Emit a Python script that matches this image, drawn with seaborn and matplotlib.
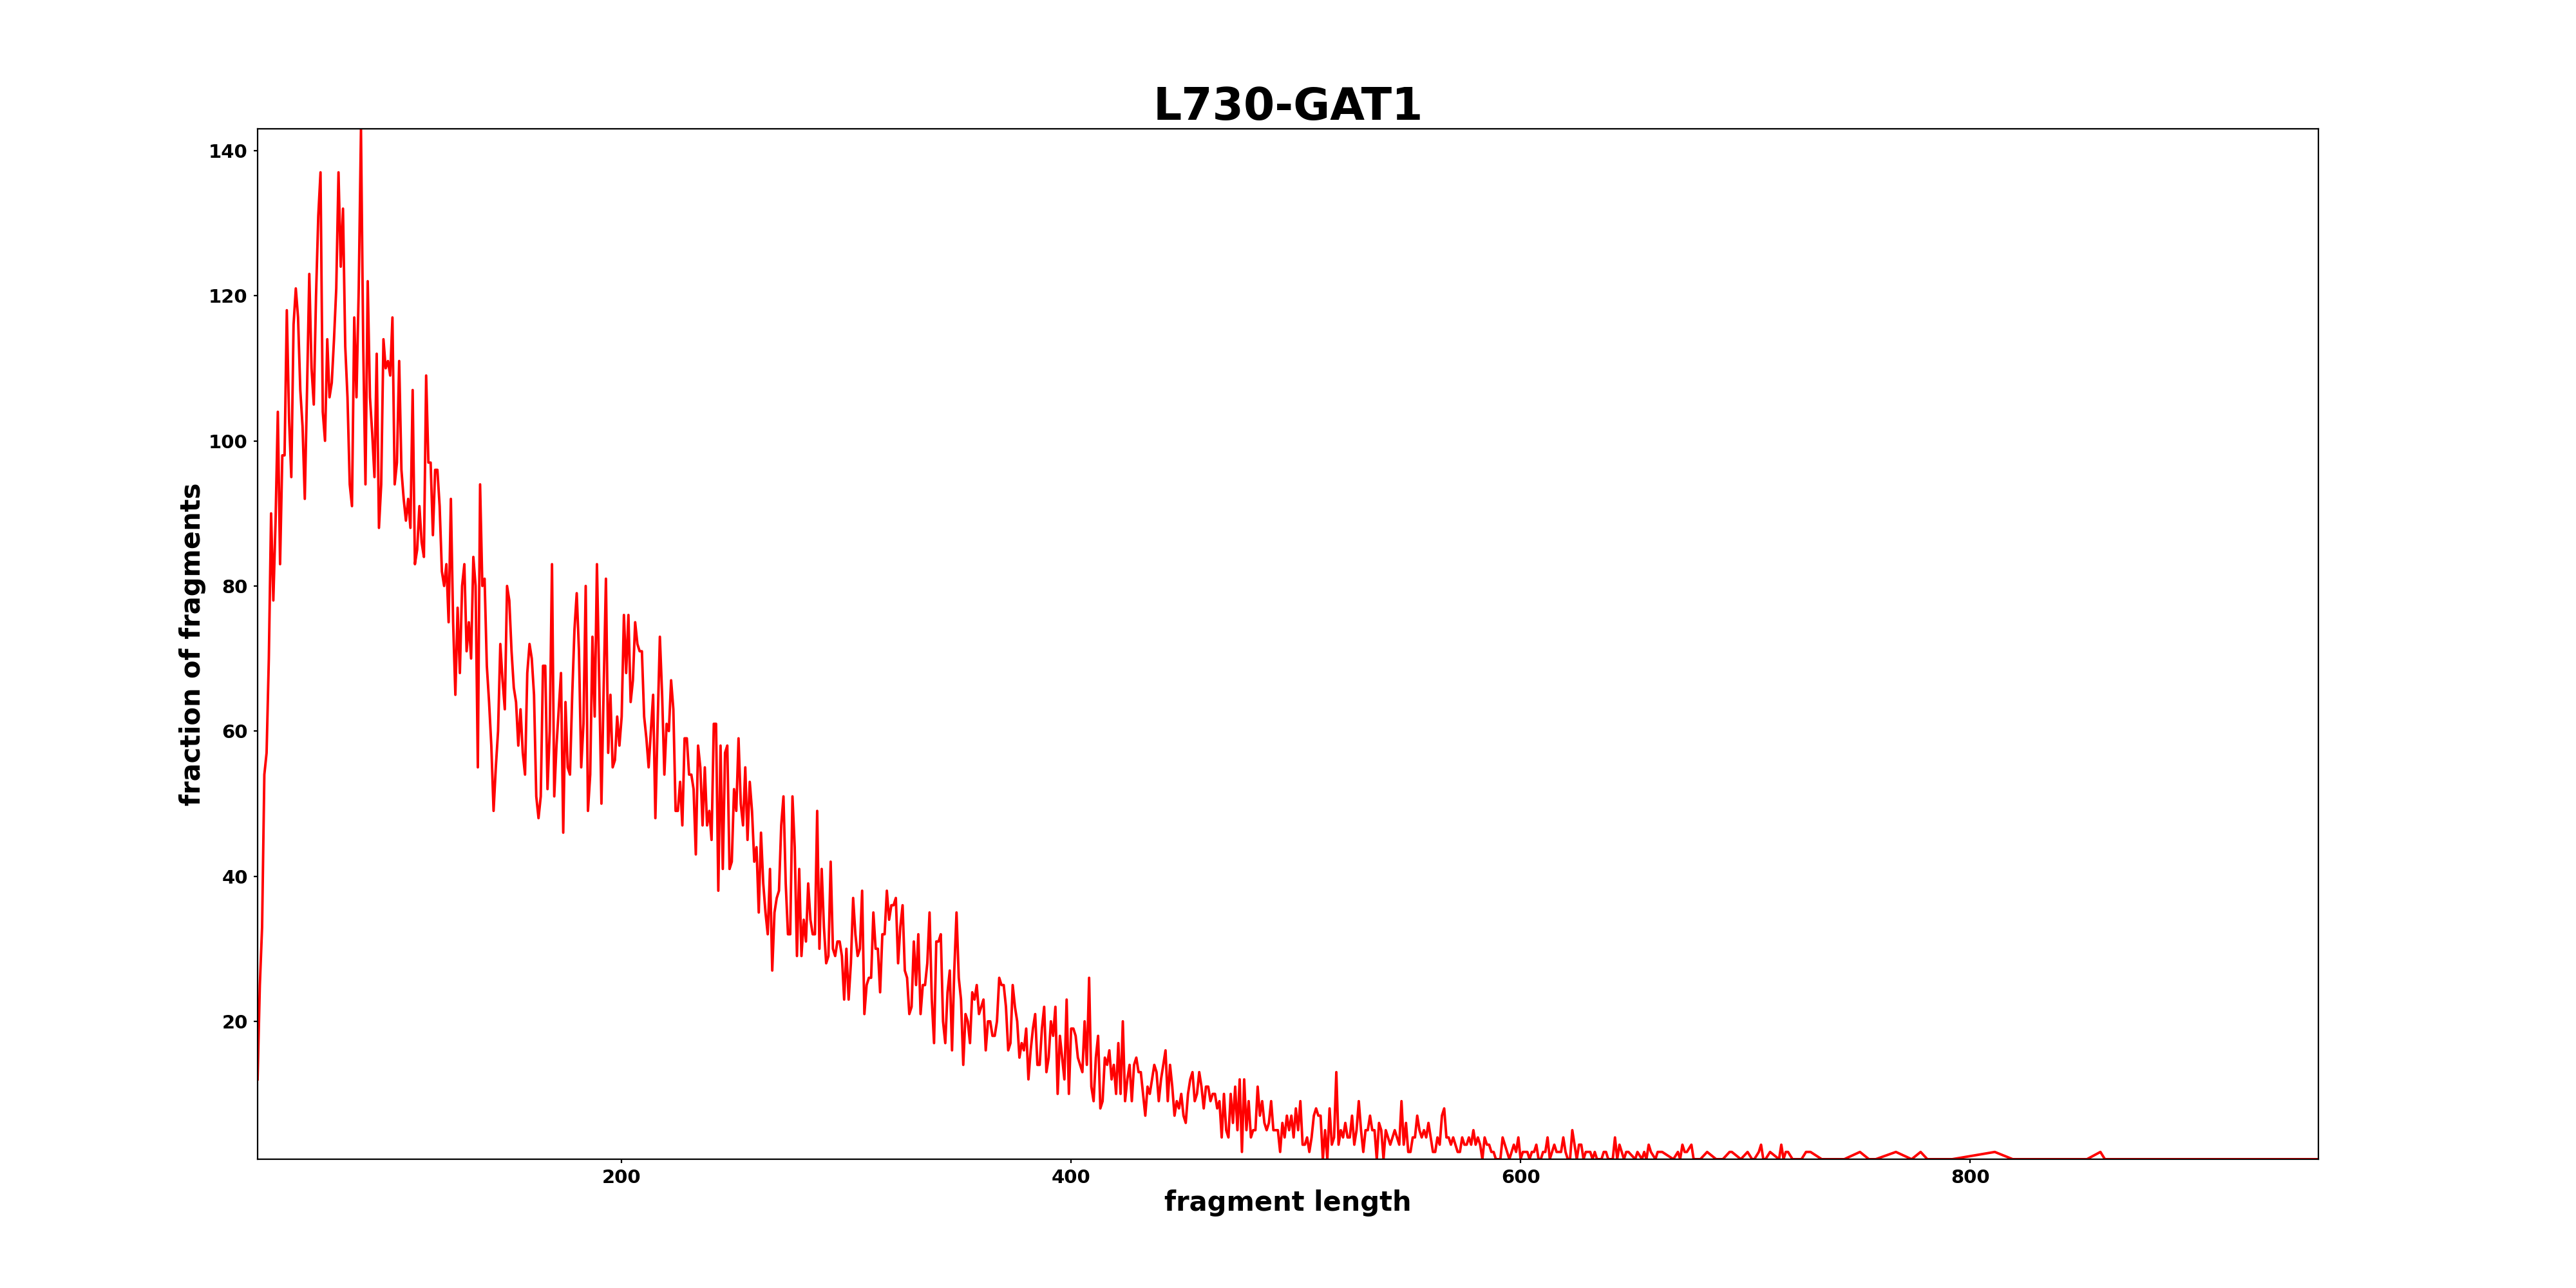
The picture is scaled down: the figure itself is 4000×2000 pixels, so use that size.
import numpy as np
import pandas as pd
import matplotlib
matplotlib.use("Agg")
import matplotlib.pyplot as plt
import seaborn as sns

# fragment length histogram, counts
# dense part: one count per length starting at 38
start_length = 38
dense_counts = [
    12, 25, 33, 54, 57, 70, 90, 78, 89, 104,
    83, 98, 98, 118, 103, 95, 116, 121, 117, 107,
    102, 92, 107, 123, 110, 105, 120, 131, 137, 104,
    100, 114, 106, 108, 114, 121, 137, 124, 132, 113,
    106, 94, 91, 117, 106, 121, 143, 113, 94, 122,
    106, 101, 95, 112, 88, 94, 114, 110, 111, 109,
    117, 94, 97, 111, 96, 92, 89, 92, 88, 107,
    83, 85, 91, 86, 84, 109, 97, 97, 87, 96,
    96, 91, 82, 80, 83, 75, 92, 75, 65, 77,
    68, 80, 83, 71, 75, 70, 84, 80, 55, 94,
    80, 81, 69, 64, 58, 49, 55, 60, 72, 67,
    63, 80, 78, 71, 66, 64, 58, 63, 57, 54,
    68, 72, 70, 65, 51, 48, 51, 69, 69, 52,
    60, 83, 51, 58, 63, 68, 46, 64, 55, 54,
    65, 74, 79, 71, 55, 61, 80, 49, 54, 73,
    62, 83, 67, 50, 66, 81, 57, 65, 55, 56,
    62, 58, 62, 76, 68, 76, 64, 67, 75, 72,
    71, 71, 62, 59, 55, 60, 65, 48, 61, 73,
    65, 54, 61, 60, 67, 63, 49, 49, 53, 47,
    59, 59, 54, 54, 52, 43, 58, 55, 47, 55,
    47, 49, 45, 61, 61, 38, 58, 41, 57, 58,
    41, 42, 52, 49, 59, 50, 47, 55, 45, 53,
    49, 42, 44, 35, 46, 39, 35, 32, 41, 27,
    35, 37, 38, 47, 51, 39, 32, 32, 51, 44,
    29, 41, 29, 34, 31, 39, 34, 32, 32, 49,
    30, 41, 33, 28, 29, 42, 30, 29, 31, 31,
    29, 23, 30, 23, 28, 37, 32, 29, 30, 38,
    21, 25, 26, 26, 35, 30, 30, 24, 32, 32,
    38, 34, 36, 36, 37, 28, 33, 36, 27, 26,
    21, 22, 31, 25, 32, 21, 25, 25, 28, 35,
    23, 17, 31, 31, 32, 20, 17, 24, 27, 16,
    27, 35, 26, 23, 14, 21, 20, 17, 24, 23,
    25, 21, 22, 23, 16, 20, 20, 18, 18, 20,
    26, 25, 25, 22, 16, 17, 25, 22, 20, 15,
    17, 16, 19, 12, 16, 19, 21, 14, 14, 19,
    22, 13, 15, 20, 18, 22, 10, 18, 15, 12,
    23, 10, 19, 19, 18, 15, 14, 13, 20, 14,
    26, 11, 9, 15, 18, 8, 9, 15, 14, 16,
    12, 14, 10, 17, 10, 20, 9, 12, 14, 9,
    14, 15, 13, 13, 10, 7, 11, 10, 12, 14,
    13, 9, 12, 14, 16, 9, 14, 11, 7, 9,
    8, 10, 7, 6, 10, 12, 13, 9, 10, 13,
    11, 8, 11, 11, 9, 10, 10, 8, 9, 4,
    10, 5, 4, 10, 6, 11, 5, 12, 2, 12,
    5, 9, 4, 5, 5, 11, 7, 9, 6, 5,
    6, 9, 5, 5, 5, 2, 6, 4, 7, 5,
    7, 4, 8, 5, 9, 3, 3, 4, 2, 4,
    7, 8, 7, 7, 1, 5, 1, 8, 3, 4,
    13, 3, 5, 4, 6, 4, 4, 7, 3, 5,
    9, 5, 2, 5, 5, 7, 5, 5, 1, 6,
    5, 1, 5, 4, 3, 4, 5, 4, 3, 9,
    3, 6, 2, 2, 4, 4, 7, 5, 4, 5,
    4, 6, 4, 2, 2, 4, 3, 7, 8, 4,
    4, 3, 4, 3, 2, 2, 4, 3, 3, 4,
    3, 5, 3, 4, 3, 1, 4, 3, 3, 2,
    2, 1, 1, 1, 4, 3, 2, 1, 2, 3,
    2, 4, 1, 2, 2, 2, 1, 2, 2, 3,
    1, 1, 2, 2, 4, 1, 2, 3, 2, 2,
    2, 4, 2, 1, 1, 5, 3, 1, 3, 3,
    1, 2, 2, 2, 1, 2, 1, 1, 1, 2,
    2, 1, 1, 1, 4, 1, 3, 2, 1, 2,
    2,
]

# sparse tail: only lengths that were seen
tail_lengths = [651, 652, 654, 655, 656, 657, 658, 660, 661, 663, 668, 670, 671,
                672, 673, 674, 676, 677, 680, 683, 687, 690, 693, 694, 698, 701,
                703, 704, 706, 707, 708, 709, 711, 715, 716, 717, 718, 719, 721,
                725, 727, 729, 734, 744, 751, 755, 758, 767, 774, 778, 781, 792,
                811, 819, 852, 858, 860, 955]
tail_counts = [1, 2, 1, 2, 1, 3, 2, 1, 2, 2, 1, 2, 1,
               3, 2, 2, 3, 1, 1, 2, 1, 1, 2, 2, 1, 2,
               1, 1, 2, 3, 1, 1, 2, 1, 3, 1, 2, 2, 1,
               1, 2, 2, 1, 1, 2, 1, 1, 2, 1, 2, 1, 1,
               2, 1, 1, 2, 1, 1]

x_ticks = [200, 400, 600, 800]
y_ticks = [20, 40, 60, 80, 100, 120, 140]

lengths = list(range(start_length, start_length + len(dense_counts))) + tail_lengths
counts = dense_counts + tail_counts
df = pd.DataFrame({'length': lengths, 'count': counts})

plt.rcParams['font.family'] = ['DejaVu Sans']
fig, ax = plt.subplots(figsize=(20, 10), dpi=200)
fig.subplots_adjust(left=0.1, right=0.9, bottom=0.1, top=0.9)

sns.lineplot(data=df, x='length', y='count', color='red', linewidth=1.4,
             estimator=None, ax=ax)

ax.set_xlim(df['length'].min(), df['length'].max())
ax.set_ylim(df['count'].min(), df['count'].max())
ax.set_xticks(x_ticks)
ax.set_yticks(y_ticks)
ax.tick_params(length=2, width=0.8)
for lab in ax.get_xticklabels() + ax.get_yticklabels():
    lab.set_fontweight('bold')
    lab.set_fontsize(10.5)

ax.set_title('L730-GAT1', fontsize=25, fontweight='bold', pad=-0.5)
ax.set_xlabel('fragment length', fontsize=15, fontweight='bold', labelpad=1.5)
ax.set_ylabel('fraction of fragments', fontsize=15, fontweight='bold', labelpad=1.5)
for sp in ax.spines.values():
    sp.set_linewidth(0.8)
    sp.set_color('black')

plt.savefig('out.png', dpi=200)
